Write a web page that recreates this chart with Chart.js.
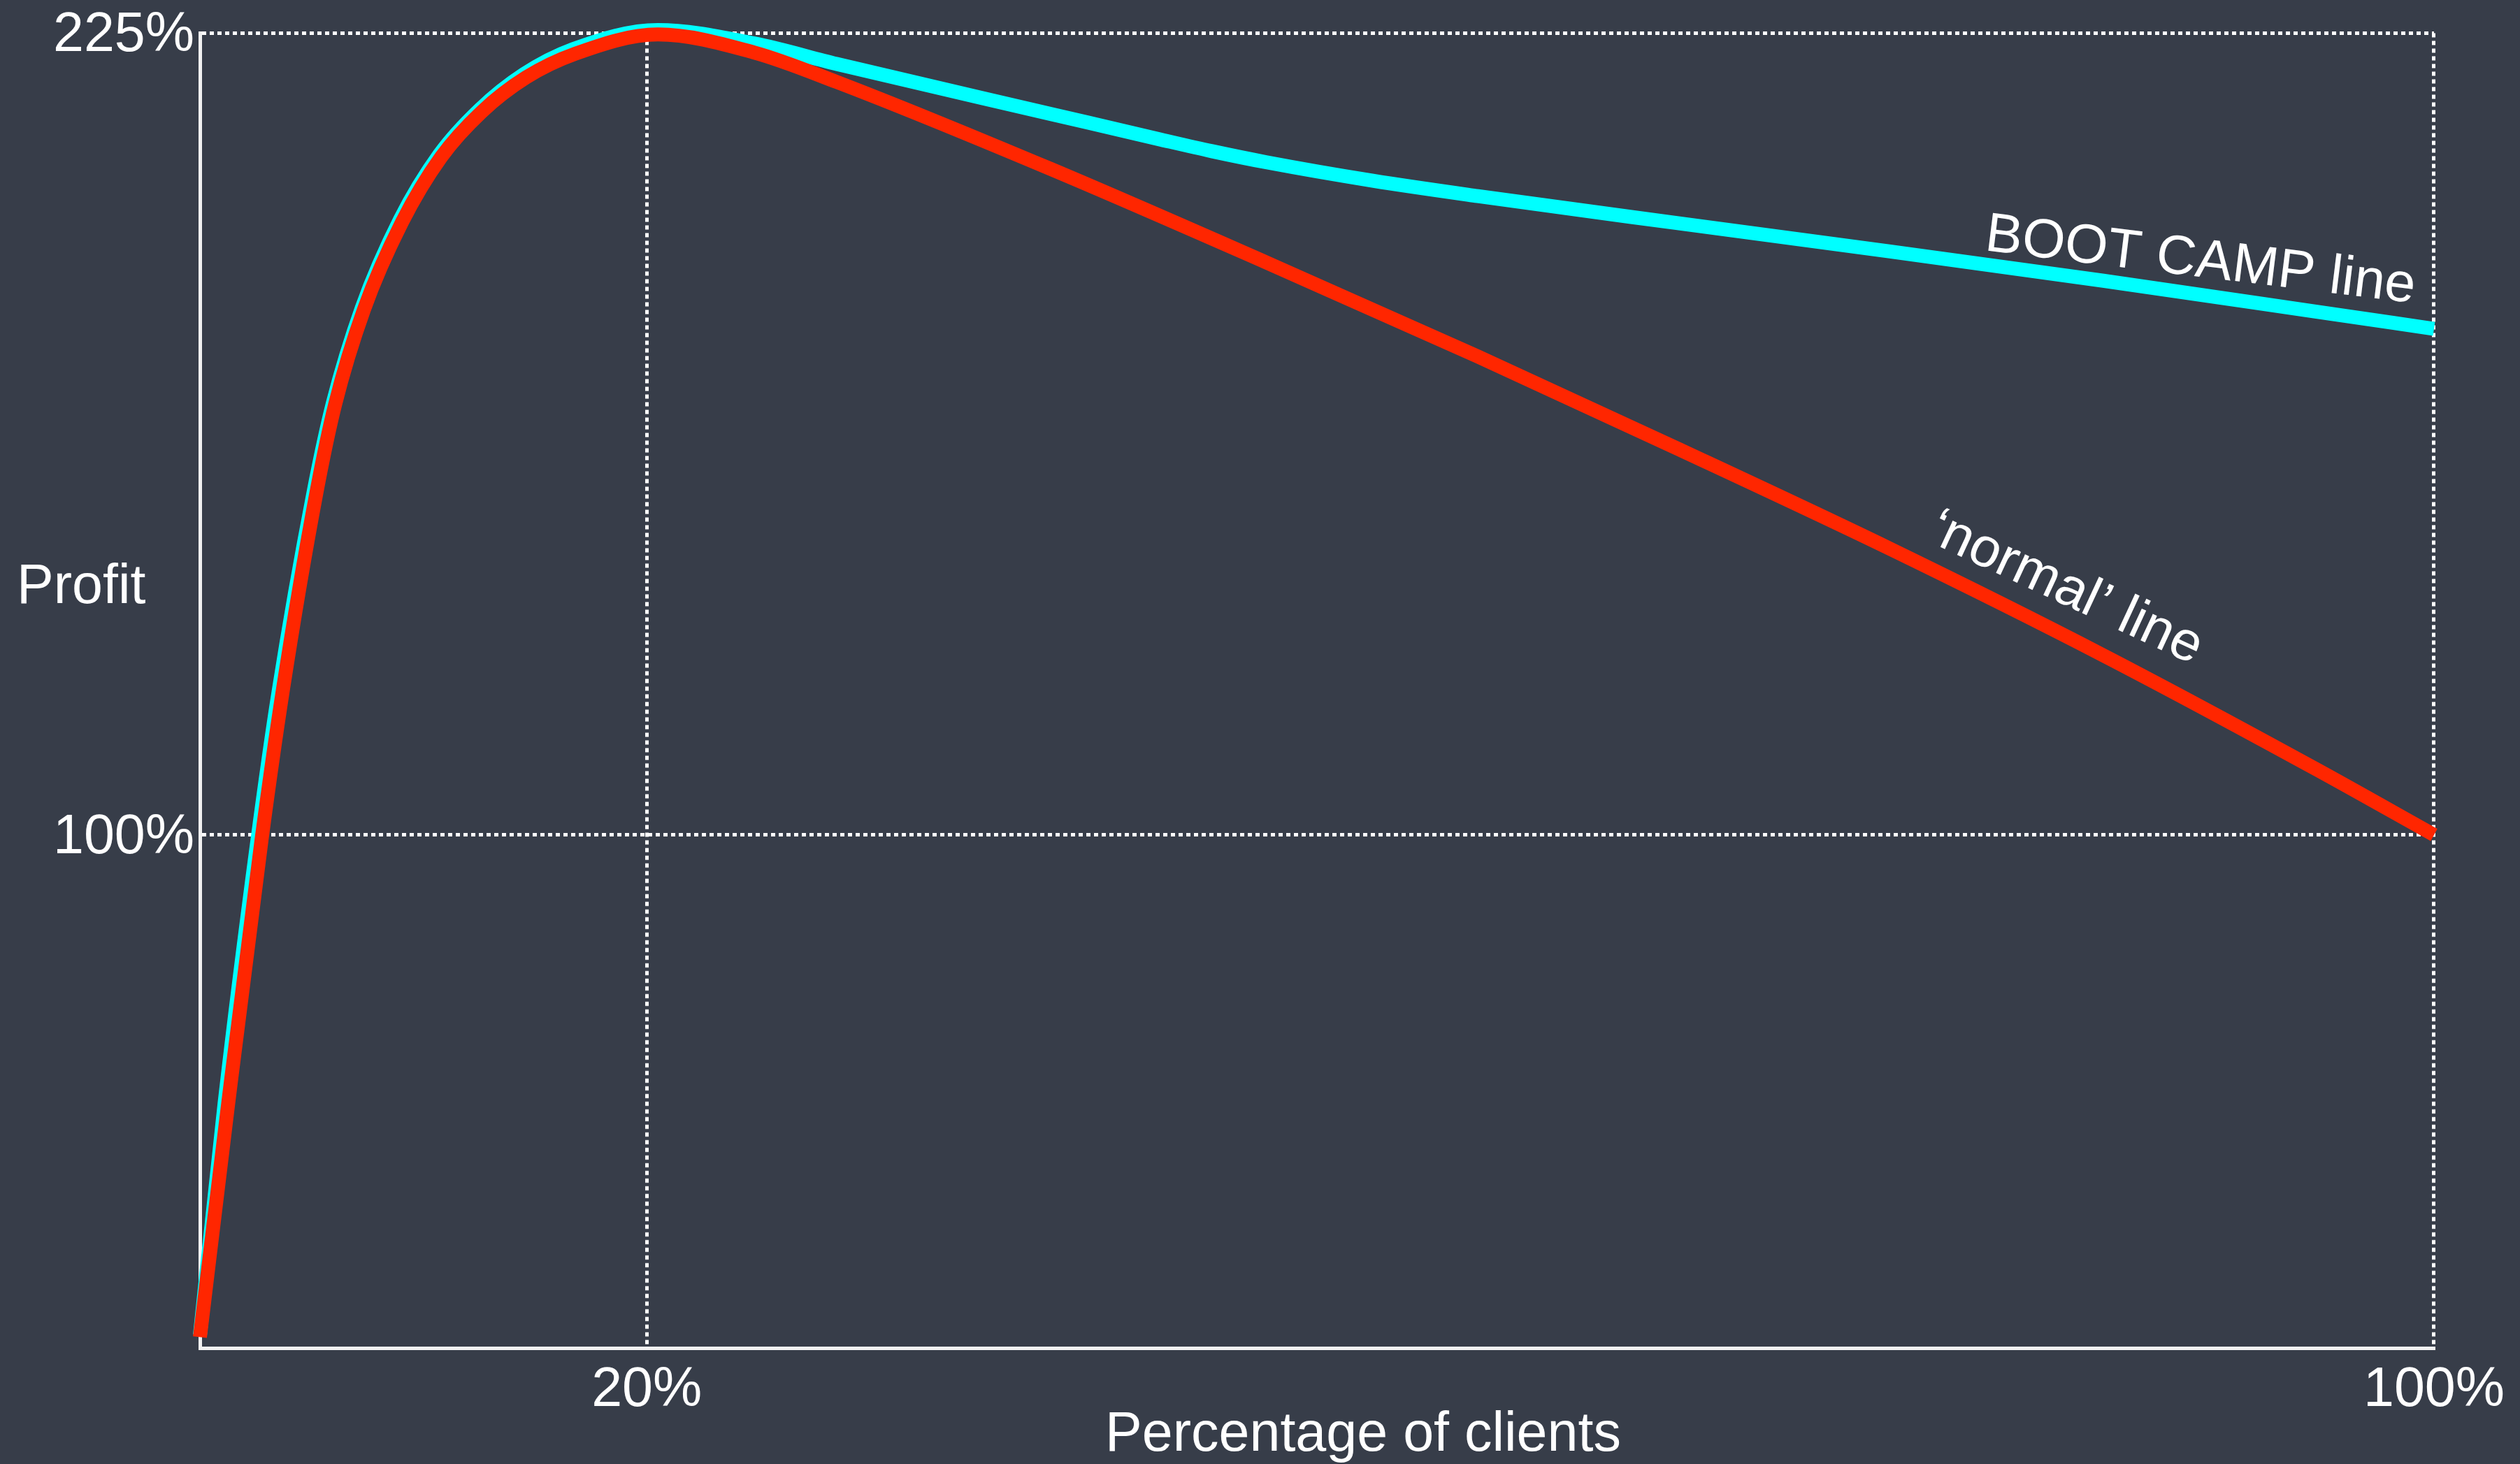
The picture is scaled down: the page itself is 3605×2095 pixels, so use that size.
<!DOCTYPE html>
<html>
<head>
<meta charset="utf-8">
<script src="https://cdn.jsdelivr.net/npm/chart.js@4"></script>
<style>
html,body{margin:0;padding:0;background:#373d49;}
#wrap{width:3605px;height:2095px;position:relative;}
</style>
</head>
<body>
<div id="wrap"><canvas id="c"></canvas></div>
<script>
// ---- data ----
const xTickValues = [20, 100];
const yTickValues = [100, 225];

const normalX = [0, 1.26, 2.76, 3.7, 5.2, 6.05, 7.34, 9.04, 10.8, 12.6, 14.6, 16.8, 20.5, 24.8, 28.5, 38.1, 47.7, 57.2, 66.1, 75.6, 85.2, 94.7, 100];
const normalY = [21.7, 58.0, 99.3, 122.3, 153.1, 167.1, 181.9, 195.5, 205.7, 212.7, 218.1, 221.8, 224.8, 222.0, 217.4, 203.8, 189.3, 174.6, 160.3, 144.7, 128.0, 110.3, 100];

const bootX = [0, 1.1, 2.58, 3.52, 5.08, 5.95, 7.25, 8.95, 10.72, 12.52, 14.5, 16.7, 20.5, 24.8, 28.5, 38.1, 42.9, 45.3, 47.7, 52.5, 57.2, 66.1, 75.6, 85.2, 94.7, 100];
const bootY = [22, 58.0, 99.3, 122.3, 153.3, 167.3, 182.2, 195.9, 206.1, 213.1, 218.6, 222.5, 225.5, 223.4, 220.2, 212.4, 208.5, 206.6, 204.9, 202.0, 199.6, 195.4, 191.0, 186.4, 181.6, 178.9];

const yAxisTitle = 'Profit';
const xAxisTitle = 'Percentage of clients';
const bootLabel = 'BOOT CAMP line';
const normalLabel = '\u2018normal\u2019 line';

// ---- chart ----
const FONT = '"Liberation Sans", Arial, Helvetica, sans-serif';
const toPts = (xs, ys) => xs.map((x, i) => ({x: x, y: ys[i]}));

const textPlugin = {
  id: 'texts',
  afterDraw(chart) {
    const ctx = chart.ctx;
    ctx.save();
    ctx.fillStyle = '#ffffff';
    ctx.font = '79px ' + FONT;
    ctx.textBaseline = 'alphabetic';
    ctx.textAlign = 'left';
    ctx.fillText(yAxisTitle, 24, 863);
    ctx.textAlign = 'center';
    ctx.fillText(xAxisTitle, 1950, 2076);
    ctx.textAlign = 'left';
    ctx.save();
    ctx.translate(2838, 358);
    ctx.rotate(7 * Math.PI / 180);
    ctx.fillText(bootLabel, 0, 0);
    ctx.restore();
    ctx.save();
    ctx.translate(2755, 773);
    ctx.rotate(25 * Math.PI / 180);
    ctx.fillText(normalLabel, 0, 0);
    ctx.restore();
    ctx.restore();
  }
};

new Chart(document.getElementById('c'), {
  type: 'line',
  data: {
    datasets: [
      {
        label: 'normal',
        data: toPts(normalX, normalY),
        borderColor: '#ff2600',
        borderWidth: 20,
        pointRadius: 0,
        cubicInterpolationMode: 'monotone',
        clip: false,
        order: 1,
        borderJoinStyle: 'round'
      },
      {
        label: 'boot camp',
        data: toPts(bootX, bootY),
        borderColor: '#00ffff',
        borderWidth: 20,
        pointRadius: 0,
        cubicInterpolationMode: 'monotone',
        clip: false,
        order: 2,
        borderJoinStyle: 'round'
      }
    ]
  },
  options: {
    responsive: true,
    maintainAspectRatio: false,
    animation: false,
    events: [],
    layout: {padding: {top: 42, right: 118, left: 0, bottom: 0}},
    plugins: {legend: {display: false}, tooltip: {enabled: false}},
    scales: {
      x: {
        type: 'linear', min: 0, max: 100,
        afterBuildTicks: s => { s.ticks = xTickValues.map(v => ({value: v})); },
        afterFit: s => { s.height = 166; },
        ticks: {color: '#ffffff', font: {family: FONT, size: 79, lineHeight: 1}, padding: 22, maxRotation: 0, autoSkip: false, callback: v => v + '%'},
        grid: {color: '#ffffff', lineWidth: 5, drawTicks: false},
        border: {display: true, color: '#f2f2f2', width: 5, dash: [6, 5]}
      },
      y: {
        type: 'linear', min: 20, max: 225,
        afterBuildTicks: s => { s.ticks = yTickValues.map(v => ({value: v})); },
        afterFit: s => { s.width = 286; },
        ticks: {color: '#ffffff', font: {family: FONT, size: 79, lineHeight: 1}, padding: 8, labelOffset: 4, autoSkip: false, callback: v => v + '%'},
        grid: {color: '#ffffff', lineWidth: 5, drawTicks: false},
        border: {display: true, color: '#f2f2f2', width: 5, dash: [6, 5]}
      }
    }
  },
  plugins: [textPlugin]
});
</script>
</body>
</html>
